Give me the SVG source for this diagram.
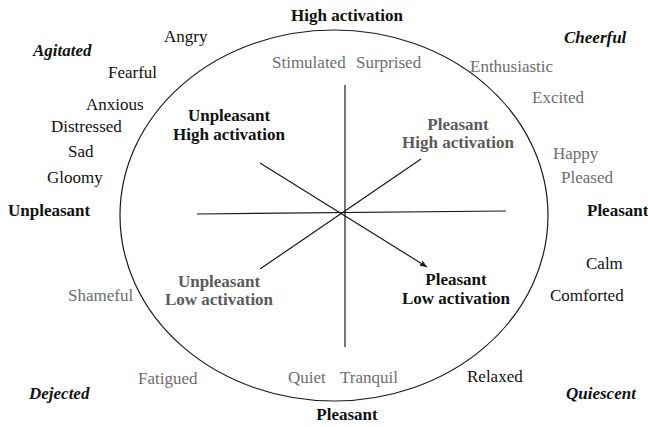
<svg xmlns="http://www.w3.org/2000/svg" width="648" height="427" viewBox="0 0 648 427">
<style>
text{font-family:'Liberation Serif','Times New Roman',Times,'DejaVu Serif',serif;font-size:17px;fill:#111}
.g{fill:#6e6e6e}
.b{font-weight:bold}
.bg{font-weight:bold;fill:#5a5a5a}
.bi{font-weight:bold;font-style:italic}
.ln{stroke:#1a1a1a;stroke-width:1.2;fill:none}
</style>
<defs>
<marker id="ah" markerWidth="8" markerHeight="8" refX="7" refY="4" orient="auto" markerUnits="userSpaceOnUse">
<path d="M0,1 L7,4 L0,7 Z" fill="#1a1a1a"/>
</marker>
</defs>
<rect width="648" height="427" fill="#fff"/>
<g id="circle"><ellipse cx="334" cy="215.5" rx="214" ry="185.5" class="ln"/></g>
<g id="connectors">
<line class="ln" x1="345" y1="85" x2="345" y2="347"/>
<line class="ln" x1="197" y1="214" x2="506" y2="211"/>
<line class="ln" x1="260" y1="163" x2="427" y2="267" marker-end="url(#ah)"/>
<line class="ln" x1="260" y1="269" x2="421" y2="159"/>
</g>
<g id="axis-top"><text class="b" x="347" y="21" text-anchor="middle">High activation</text></g>
<g id="axis-bottom"><text class="b" x="347" y="420" text-anchor="middle">Pleasant</text></g>
<g id="axis-left"><text class="b" x="8" y="216">Unpleasant</text></g>
<g id="axis-right"><text class="b" x="587" y="216">Pleasant</text></g>
<g id="agitated"><text class="bi" x="33" y="56">Agitated</text></g>
<g id="cheerful"><text class="bi" x="564" y="43">Cheerful</text></g>
<g id="dejected"><text class="bi" x="29" y="399">Dejected</text></g>
<g id="quiescent"><text class="bi" x="566" y="399">Quiescent</text></g>
<g id="q-uh"><text class="b" x="229" y="121" text-anchor="middle">Unpleasant</text><text class="b" x="229" y="140" text-anchor="middle">High activation</text></g>
<g id="q-ph"><text class="bg" x="458" y="130" text-anchor="middle">Pleasant</text><text class="bg" x="458" y="148" text-anchor="middle">High activation</text></g>
<g id="q-ul"><text class="bg" x="219" y="287" text-anchor="middle">Unpleasant</text><text class="bg" x="219" y="305" text-anchor="middle">Low activation</text></g>
<g id="q-pl"><text class="b" x="456" y="285" text-anchor="middle">Pleasant</text><text class="b" x="456" y="304" text-anchor="middle">Low activation</text></g>
<g id="angry"><text x="164" y="42">Angry</text></g>
<g id="fearful"><text x="108" y="78">Fearful</text></g>
<g id="anxious"><text x="86" y="110">Anxious</text></g>
<g id="distressed"><text x="51" y="132">Distressed</text></g>
<g id="sad"><text x="68" y="157">Sad</text></g>
<g id="gloomy"><text x="47" y="183">Gloomy</text></g>
<g id="stimulated"><text class="g" x="272" y="68">Stimulated</text></g>
<g id="surprised"><text class="g" x="356" y="68">Surprised</text></g>
<g id="enthusiastic"><text class="g" x="470" y="72">Enthusiastic</text></g>
<g id="excited"><text class="g" x="532" y="103">Excited</text></g>
<g id="happy"><text class="g" x="553" y="159">Happy</text></g>
<g id="pleased"><text class="g" x="561" y="183">Pleased</text></g>
<g id="calm"><text x="586" y="269">Calm</text></g>
<g id="comforted"><text x="550" y="301">Comforted</text></g>
<g id="relaxed"><text x="467" y="382">Relaxed</text></g>
<g id="shameful"><text class="g" x="68" y="301">Shameful</text></g>
<g id="fatigued"><text class="g" x="138" y="384">Fatigued</text></g>
<g id="quiet"><text class="g" x="288" y="383">Quiet</text></g>
<g id="tranquil"><text class="g" x="340" y="383">Tranquil</text></g>
</svg>
